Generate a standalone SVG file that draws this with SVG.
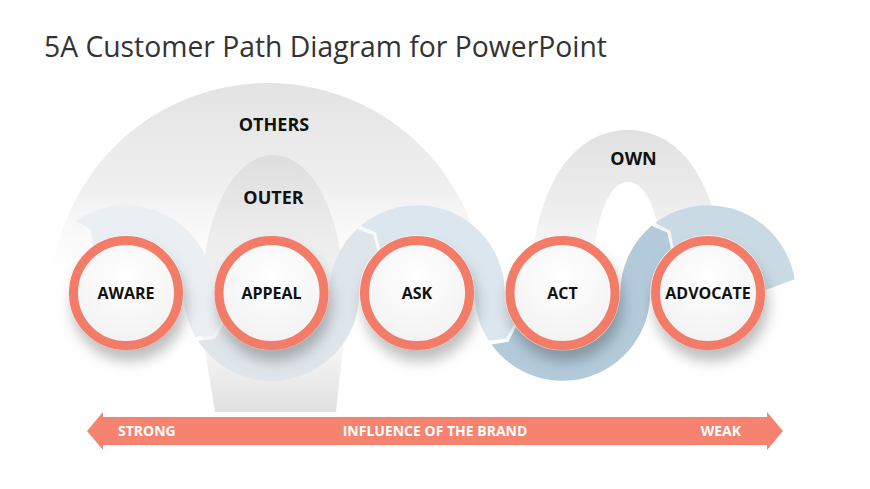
<svg xmlns="http://www.w3.org/2000/svg" width="870" height="489" viewBox="0 0 870 489">
<defs>
<style>
.title{font-family:"Open Sans","Liberation Sans",sans-serif;font-size:28.3px;fill:#333333}
.lbl{font-family:"Open Sans","Liberation Sans",sans-serif;font-size:16px;font-weight:bold;fill:#111111;text-anchor:middle}
.big{font-size:18px}
.bar{font-family:"Open Sans","Liberation Sans",sans-serif;font-size:14px;font-weight:bold;fill:#ffffff}
.ring{fill:url(#gFace);stroke:#F27C68;stroke-width:9;filter:url(#shadow)}
</style>
<linearGradient id="gOthers" gradientUnits="userSpaceOnUse" x1="0" y1="83" x2="0" y2="300">
<stop offset="0" stop-color="#e3e3e3"/>
<stop offset="0.5" stop-color="#f0f0f0"/>
<stop offset="1" stop-color="#ffffff" stop-opacity="0"/>
</linearGradient>
<linearGradient id="gOuter" gradientUnits="userSpaceOnUse" x1="0" y1="155" x2="0" y2="412">
<stop offset="0" stop-color="#dedede"/>
<stop offset="0.35" stop-color="#eeeeee"/>
<stop offset="0.75" stop-color="#f6f6f6"/>
<stop offset="1" stop-color="#e0e0e0"/>
</linearGradient>
<linearGradient id="gOwn" gradientUnits="userSpaceOnUse" x1="0" y1="130" x2="0" y2="310">
<stop offset="0" stop-color="#e1e1e1"/>
<stop offset="0.5" stop-color="#f0f0f0"/>
<stop offset="1" stop-color="#ffffff" stop-opacity="0"/>
</linearGradient>
<radialGradient id="gFace" cx="0.5" cy="0.35" r="0.65">
<stop offset="0" stop-color="#ffffff"/>
<stop offset="1" stop-color="#f2f2f2"/>
</radialGradient>
<filter id="shadow" x="-40%" y="-40%" width="180%" height="190%">
<feDropShadow dx="3" dy="11" stdDeviation="7" flood-color="#000000" flood-opacity="0.26"/>
</filter>
</defs>
<rect width="870" height="489" fill="#ffffff"/>
<text class="title" x="44" y="57">5A Customer Path Diagram for PowerPoint</text>

<g id="arcs-gray">
<path id="others-arc" d="M51,300 A217,217 0 0 1 485,300 Z" fill="url(#gOthers)"/>
<path id="outer-arc" d="M200,320 C200,205 238,155 273,155 C308,155 346,205 346,320 L336,412 L215,412 Z" fill="url(#gOuter)"/>
<path id="own-arc" d="M528,320 C528,182 575,130 628,130 C681,130 727,182 727,320 L667,320 C667,232 651,182 628,182 C605,182 590,232 590,320 Z" fill="url(#gOwn)"/>
</g>

<g id="connectors">
<path id="seg-aware" fill="#e9eff3" d="M75.67,221.12 A87.75,87.75 0 0 1 213.75,293 A57.75,57.75 0 0 0 221.49,321.88 L212.65,335.76 L195.51,336.88 A87.75,87.75 0 0 1 183.75,293 A57.75,57.75 0 0 0 92.88,245.69 L90.73,229.37 Z"/>
<path id="seg-appeal" fill="#dfe6eb" d="M197.90,340.79 A87.75,87.75 0 0 0 359.25,293 A57.75,57.75 0 0 1 377.61,250.76 L373.22,234.90 L357.15,228.82 A87.75,87.75 0 0 0 329.25,293 A57.75,57.75 0 0 1 223.07,324.45 L214.97,338.78 Z"/>
<path id="seg-ask" fill="#dbe6ee" d="M360.59,225.78 A87.75,87.75 0 0 1 504.75,293 A57.75,57.75 0 0 0 514.07,324.45 L505.97,338.78 L488.90,340.79 A87.75,87.75 0 0 1 474.75,293 A57.75,57.75 0 0 0 379.88,248.76 L376.32,232.69 Z"/>
<path id="seg-act" fill="#b3cada" d="M491.51,344.58 A87.75,87.75 0 0 0 650.25,293 A57.75,57.75 0 0 1 670.88,248.76 L667.32,232.69 L651.59,225.78 A87.75,87.75 0 0 0 620.25,293 A57.75,57.75 0 0 1 515.78,326.95 L508.44,341.68 Z"/>
<path id="seg-advocate" fill="#c9dae5" d="M655.19,222.92 A87.75,87.75 0 0 1 794.67,279.28 L765.67,290.0 A57.75,57.75 0 0 0 673.25,246.88 L670.53,230.64 Z"/>
</g>

<g id="labels-arcs">
<text class="lbl big" x="274" y="131">OTHERS</text>
<text class="lbl big" x="273.5" y="204">OUTER</text>
<text class="lbl big" x="633.5" y="165">OWN</text>
</g>

<g id="node-aware"><circle class="ring" cx="126" cy="293" r="52.5"/><text class="lbl" x="126" y="299">AWARE</text></g>
<g id="node-appeal"><circle class="ring" cx="271.5" cy="293" r="52.5"/><text class="lbl" x="271.5" y="299">APPEAL</text></g>
<g id="node-ask"><circle class="ring" cx="417" cy="293" r="52.5"/><text class="lbl" x="417" y="299">ASK</text></g>
<g id="node-act"><circle class="ring" cx="562.5" cy="293" r="52.5"/><text class="lbl" x="562.5" y="299">ACT</text></g>
<g id="node-advocate"><circle class="ring" cx="708" cy="293" r="52.5"/><text class="lbl" x="708" y="299">ADVOCATE</text></g>

<g id="influence-bar">
<path d="M87,431 L103,412 L103,417 L767,417 L767,412 L783,431 L767,450 L767,445 L103,445 L103,450 Z" fill="#F6836F"/>
<text class="bar" x="118" y="436">STRONG</text>
<text class="bar" x="435" y="436" text-anchor="middle">INFLUENCE OF THE BRAND</text>
<text class="bar" x="741" y="436" text-anchor="end">WEAK</text>
</g>
</svg>
